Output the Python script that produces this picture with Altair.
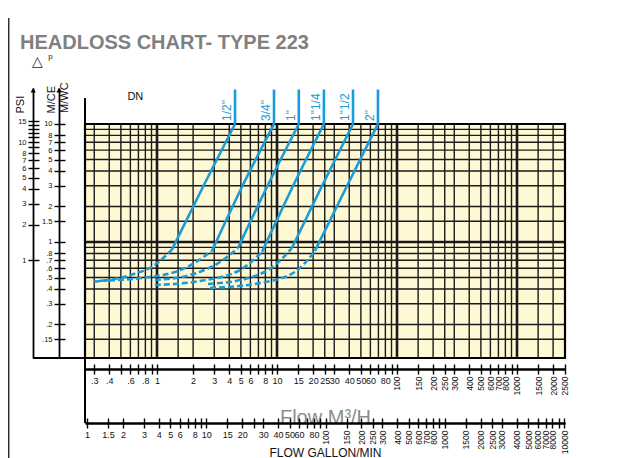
import json
import altair as alt
import pandas as pd

TITLE = "HEADLOSS CHART- TYPE 223"

# pipe sizes (DN) and their head-loss curves: flow in m3/h, head loss in m of water column
PIPES = ['1/2"', '3/4"', '1"', '1"1/4', '1"1/2', '2"']
DASH_Q = [[0.30, 0.60, 0.96, 1.33], [0.335, 0.87, 1.71, 2.87], [0.96, 1.88, 3.35, 4.73],
          [0.96, 2.28, 4.92, 7.5], [2.66, 5.41, 9.62, 13.3], [2.77, 7.22, 14.1, 20.7]]
DASH_H = [[0.46, 0.525, 0.64, 0.86], [0.47, 0.505, 0.60, 0.84], [0.477, 0.525, 0.677, 0.889],
          [0.432, 0.467, 0.579, 0.823], [0.441, 0.486, 0.638, 0.889], [0.408, 0.449, 0.557, 0.839]]
SOLID_Q = [[1.33, 2.46, 4.47], [2.87, 5.2, 9.44], [4.73, 8.4, 15.2],
           [7.5, 13.6, 24.6], [13.3, 23.7, 43.0], [20.7, 38.3, 69.4]]
SOLID_H = [[0.86, 3.04, 10], [0.84, 3.04, 10], [0.889, 3.04, 10],
           [0.823, 2.98, 10], [0.889, 2.98, 10], [0.839, 2.98, 10]]

# axis ticks
M3H_LOW_LABELED = [0.3, 0.4, 0.6, 0.8, 1, 2, 3, 4, 5, 6, 8, 10, 15, 20, 25, 30, 40, 50, 60, 80]
M3H_LOW_MINOR = [0.5, 0.7, 0.9, 7, 9, 70, 90]
M3H_HIGH_LABELED = [100, 150, 200, 250, 300, 400, 500, 600, 700, 800, 1000, 1500, 2000, 2500]
M3H_HIGH_MINOR = [900]
GPM_LOW_LABELED = [1, 1.5, 2, 3, 4, 5, 6, 8, 10, 15, 20, 30, 40, 50, 60, 80]
GPM_LOW_MINOR = [7, 9, 25, 70, 90]
GPM_HIGH_LABELED = [100, 150, 200, 250, 300, 400, 500, 600, 700, 800, 1000, 1500, 2000, 2500,
                    3000, 4000, 5000, 6000, 7000, 8000, 10000]
GPM_HIGH_MINOR = [900, 9000]
MCE_TICKS = [0.15, 0.2, 0.3, 0.4, 0.5, 0.6, 0.7, 0.8, 1, 1.5, 2, 3, 4, 5, 6, 7, 8, 10]
PSI_LABELED = [1, 2, 3, 4, 5, 6, 7, 8, 10, 15]
PSI_MINOR = [9, 11, 12, 13, 14]

# chart grid
X_GRID = [0.3, 0.4, 0.5, 0.6, 0.7, 0.8, 0.9, 1, 1.5, 2, 3, 4, 5, 6, 7, 8, 9, 10, 15, 20, 25, 30,
          40, 50, 60, 70, 80, 90, 100, 150, 200, 250, 300, 400, 500, 600, 700, 800, 900, 1000,
          1500, 2000]
Y_GRID = [0.15, 0.2, 0.3, 0.4, 0.5, 0.6, 0.7, 0.8, 0.9, 1, 1.5, 2, 3, 4, 5, 6, 7, 8, 9]

# scale domains
X_DOM = [0.2512, 2512]
Y_DOM = [0.104, 20.18]
PSI_DOM = [0.1479, 28.70]
GPM_DOM = [0.962, 10194]
Y_TOP = 10

BLUE = "#1b9bd7"
YELLOW = "#fff8d4"
FONT = "Liberation Sans"
INK = "#111111"


def XS():
    return alt.Scale(type="log", domain=X_DOM, nice=False)


def YS():
    return alt.Scale(type="log", domain=Y_DOM, nice=False)


rows = []
for i, p in enumerate(PIPES):
    for q, h in zip(DASH_Q[i], DASH_H[i]):
        rows.append({"pipe": p, "part": "dash", "Q": q, "H": h})
    for q, h in zip(SOLID_Q[i], SOLID_H[i]):
        rows.append({"pipe": p, "part": "solid", "Q": q, "H": h})
curves = pd.DataFrame(rows)
tops = pd.DataFrame({"pipe": PIPES, "Q": [s[-1] for s in SOLID_Q], "H": [s[-1] for s in SOLID_H]})
one = pd.DataFrame({"k": [0]})


def is_major(v):
    return v in (1, 10, 100, 1000)


vgrid_df = pd.DataFrame({"v": X_GRID, "w": [2.6 if is_major(v) else 1.4 for v in X_GRID]})
hgrid_df = pd.DataFrame({"v": Y_GRID, "w": [2.6 if is_major(v) else 1.4 for v in Y_GRID]})
box = pd.DataFrame({"x1": [X_DOM[0]], "x2": [X_DOM[1]], "y1": [Y_DOM[0]], "y2": [Y_TOP]})

layers = []

layers.append(alt.Chart(box).mark_rect(fill=YELLOW).encode(
    x=alt.X("x1:Q", scale=XS(), axis=None), x2="x2:Q",
    y=alt.Y("y1:Q", scale=YS(), axis=None), y2="y2:Q"))

layers.append(alt.Chart(vgrid_df).mark_rule(color="#1a1a1a").encode(
    x=alt.X("v:Q", scale=XS(), axis=None),
    y=alt.YDatum(Y_DOM[0], scale=YS(), axis=None), y2=alt.datum(Y_TOP),
    strokeWidth=alt.StrokeWidth("w:Q", scale=None)))

layers.append(alt.Chart(hgrid_df).mark_rule(color="#1a1a1a").encode(
    y=alt.Y("v:Q", scale=YS(), axis=None),
    x=alt.XDatum(X_DOM[0], scale=XS(), axis=None), x2=alt.datum(X_DOM[1]),
    strokeWidth=alt.StrokeWidth("w:Q", scale=None)))

layers.append(alt.Chart(box).mark_rect(fillOpacity=0, stroke="black", strokeWidth=2.2).encode(
    x=alt.X("x1:Q", scale=XS(), axis=None), x2="x2:Q",
    y=alt.Y("y1:Q", scale=YS(), axis=None), y2="y2:Q"))

layers.append(alt.Chart(curves).transform_filter(alt.datum.part == "dash").mark_line(
    color=BLUE, strokeWidth=2.6, strokeDash=[6, 3], interpolate="monotone").encode(
    x=alt.X("Q:Q", scale=XS(), axis=None), y=alt.Y("H:Q", scale=YS(), axis=None), detail="pipe:N"))

layers.append(alt.Chart(curves).transform_filter(alt.datum.part == "solid").mark_line(
    color=BLUE, strokeWidth=2.6, interpolate="monotone").encode(
    x=alt.X("Q:Q", scale=XS(), axis=None), y=alt.Y("H:Q", scale=YS(), axis=None), detail="pipe:N"))

layers.append(alt.Chart(tops).mark_rule(color=BLUE, strokeWidth=2.6).encode(
    x=alt.X("Q:Q", scale=XS(), axis=None), y=alt.Y("H:Q", scale=YS(), axis=None), y2=alt.datum(19.6)))

layers.append(alt.Chart(tops).mark_text(
    angle=270, align="left", baseline="bottom", dx=3, dy=-1, fontSize=12, font=FONT, color=BLUE).encode(
    x=alt.X("Q:Q", scale=XS(), axis=None), y=alt.Y("H:Q", scale=YS(), axis=None), text="pipe:N"))

# structural lines around the plot (page edge, left edge extended, DN marker, base line)
layers.append(alt.Chart(one).mark_rule(color="black", strokeWidth=1.2).encode(
    x=alt.XDatum(0.0582, scale=XS(), axis=None),
    y=alt.YDatum(0.0148, scale=YS(), axis=None), y2=alt.datum(79.0)))
layers.append(alt.Chart(one).mark_rule(color="black", strokeWidth=2).encode(
    x=alt.XDatum(X_DOM[0], scale=XS(), axis=None),
    y=alt.YDatum(0.0292, scale=YS(), axis=None), y2=alt.datum(16.6)))
layers.append(alt.Chart(one).mark_rule(color="black", strokeWidth=2).encode(
    x=alt.XDatum(0.0929, scale=XS(), axis=None), x2=alt.datum(X_DOM[0]),
    y=alt.YDatum(Y_DOM[0], scale=YS(), axis=None)))
layers.append(alt.Chart(one).mark_text(fontSize=11, font=FONT, color=INK, text="DN").encode(
    x=alt.XDatum(0.66, scale=XS(), axis=None), y=alt.YDatum(16.9, scale=YS(), axis=None)))
layers.append(alt.Chart(one).mark_text(fontSize=14, font=FONT, color="#222", align="left", text="△").encode(
    x=alt.XDatum(0.090, scale=XS(), axis=None), y=alt.YDatum(33.5, scale=YS(), axis=None)))
layers.append(alt.Chart(one).mark_text(fontSize=8, font=FONT, color="#222", align="left", text="p").encode(
    x=alt.XDatum(0.124, scale=XS(), axis=None), y=alt.YDatum(37.0, scale=YS(), axis=None)))
layers.append(alt.Chart(one).mark_text(fontSize=11, font=FONT, color=INK, angle=270, align="left",
                                       baseline="middle", text="M/WC").encode(
    x=alt.XDatum(0.171, scale=XS(), axis=None), y=alt.YDatum(12.4, scale=YS(), axis=None)))
for ax_x in (0.0929, 0.1526):
    layers.append(alt.Chart(one).mark_point(shape="triangle-up", filled=True, color="black", size=28,
                                            opacity=1).encode(
        x=alt.XDatum(ax_x, scale=XS(), axis=None), y=alt.YDatum(19.3, scale=YS(), axis=None)))

AX = dict(domainColor="black", domainWidth=1.8, tickColor="black", tickWidth=1.4, tickSize=5,
          labelFont=FONT, labelColor=INK, grid=False, format="~g", labelOverlap=False, labelFlush=False,
          labelBound=False)


def label_expr(labeled):
    return "indexof(%s, datum.value) >= 0 ? replace(datum.label, '0.', '.') : ''" % json.dumps(labeled)


def x_axis_layer(labeled, minor, dom, offset, angle, title=None, **kw):
    vals = sorted(labeled + minor)
    axis = alt.Axis(values=vals, orient="bottom", offset=offset, labelAngle=angle,
                    labelExpr=label_expr(labeled), labelFontSize=8.5 if angle else 9,
                    labelPadding=2, **AX, **kw)
    return alt.Chart(pd.DataFrame({"v": vals})).mark_point(opacity=0).encode(
        x=alt.X("v:Q", scale=alt.Scale(type="log", domain=dom, nice=False), axis=axis, title=title))


def x_ticks_up(vals, dom, offset):
    axis = alt.Axis(values=vals, orient="top", offset=offset, labels=False, domain=False, grid=False,
                    tickColor="black", tickWidth=1.4, tickSize=5)
    return alt.Chart(pd.DataFrame({"v": vals})).mark_point(opacity=0).encode(
        x=alt.X("v:Q", scale=alt.Scale(type="log", domain=dom, nice=False), axis=axis, title=None))


def y_axis_layer(labeled, minor, dom, offset, title, **kw):
    vals = sorted(labeled + minor)
    axis = alt.Axis(values=vals, orient="left", offset=offset, labelExpr=label_expr(labeled),
                    labelFontSize=7.5, labelPadding=2, **AX, **kw)
    return alt.Chart(pd.DataFrame({"v": vals})).mark_point(opacity=0).encode(
        y=alt.Y("v:Q", scale=alt.Scale(type="log", domain=dom, nice=False), axis=axis, title=title))


def y_ticks_right(vals, dom, offset):
    axis = alt.Axis(values=vals, orient="right", offset=offset, labels=False, domain=False, grid=False,
                    tickColor="black", tickWidth=1.4, tickSize=6)
    return alt.Chart(pd.DataFrame({"v": vals})).mark_point(opacity=0).encode(
        y=alt.Y("v:Q", scale=alt.Scale(type="log", domain=dom, nice=False), axis=axis, title=None))


layers.append(x_axis_layer(M3H_LOW_LABELED, M3H_LOW_MINOR, X_DOM, 11, 0, title="Flow M³/H",
                           titleFont=FONT, titleFontSize=20, titleFontWeight="normal", titleColor="#8c8c8c",
                           titleY=54, titleBaseline="alphabetic"))
layers.append(x_axis_layer(M3H_HIGH_LABELED, M3H_HIGH_MINOR, X_DOM, 11, 270))
layers.append(x_ticks_up(sorted(M3H_LOW_LABELED + M3H_LOW_MINOR + M3H_HIGH_LABELED + M3H_HIGH_MINOR),
                         X_DOM, -281))
layers.append(x_axis_layer(GPM_LOW_LABELED, GPM_LOW_MINOR, GPM_DOM, 65, 0))
layers.append(x_axis_layer(GPM_HIGH_LABELED, GPM_HIGH_MINOR, GPM_DOM, 65, 270, title="FLOW GALLON/MIN",
                           titleFont=FONT, titleFontSize=12, titleFontWeight="normal", titleColor=INK,
                           titleY=33, titleBaseline="alphabetic"))
layers.append(x_ticks_up(sorted(GPM_LOW_LABELED + GPM_LOW_MINOR + GPM_HIGH_LABELED + GPM_HIGH_MINOR),
                         GPM_DOM, -335))
layers.append(y_axis_layer(MCE_TICKS, [], Y_DOM, 26, "M/CE",
                           titleFont=FONT, titleFontSize=11, titleFontWeight="normal", titleColor=INK,
                           titleAngle=270, titleX=-8, titleY=25, titleAlign="left", titleBaseline="middle"))
layers.append(y_ticks_right(MCE_TICKS, Y_DOM, -506))
layers.append(y_axis_layer(PSI_LABELED, PSI_MINOR, PSI_DOM, 52, "PSI",
                           titleFont=FONT, titleFontSize=11, titleFontWeight="normal", titleColor=INK,
                           titleAngle=270, titleX=-13, titleY=25, titleAlign="left", titleBaseline="middle"))
layers.append(y_ticks_right(sorted(PSI_LABELED + PSI_MINOR), PSI_DOM, -532))

chart = alt.layer(*layers).resolve_scale(
    x="independent", y="independent"
).properties(
    width=480, height=270,
    title=alt.TitleParams(TITLE, anchor="start", frame="group", dx=-65, dy=36, offset=0,
                          fontSize=20, font=FONT, fontWeight="bold", color="#808080"),
    autosize=alt.AutoSizeParams(type="none"),
    padding={"left": 77, "top": 80, "right": 51, "bottom": 100},
).configure_view(stroke=None)

chart.save("out.html", embed_options={"renderer": "svg", "actions": False})
